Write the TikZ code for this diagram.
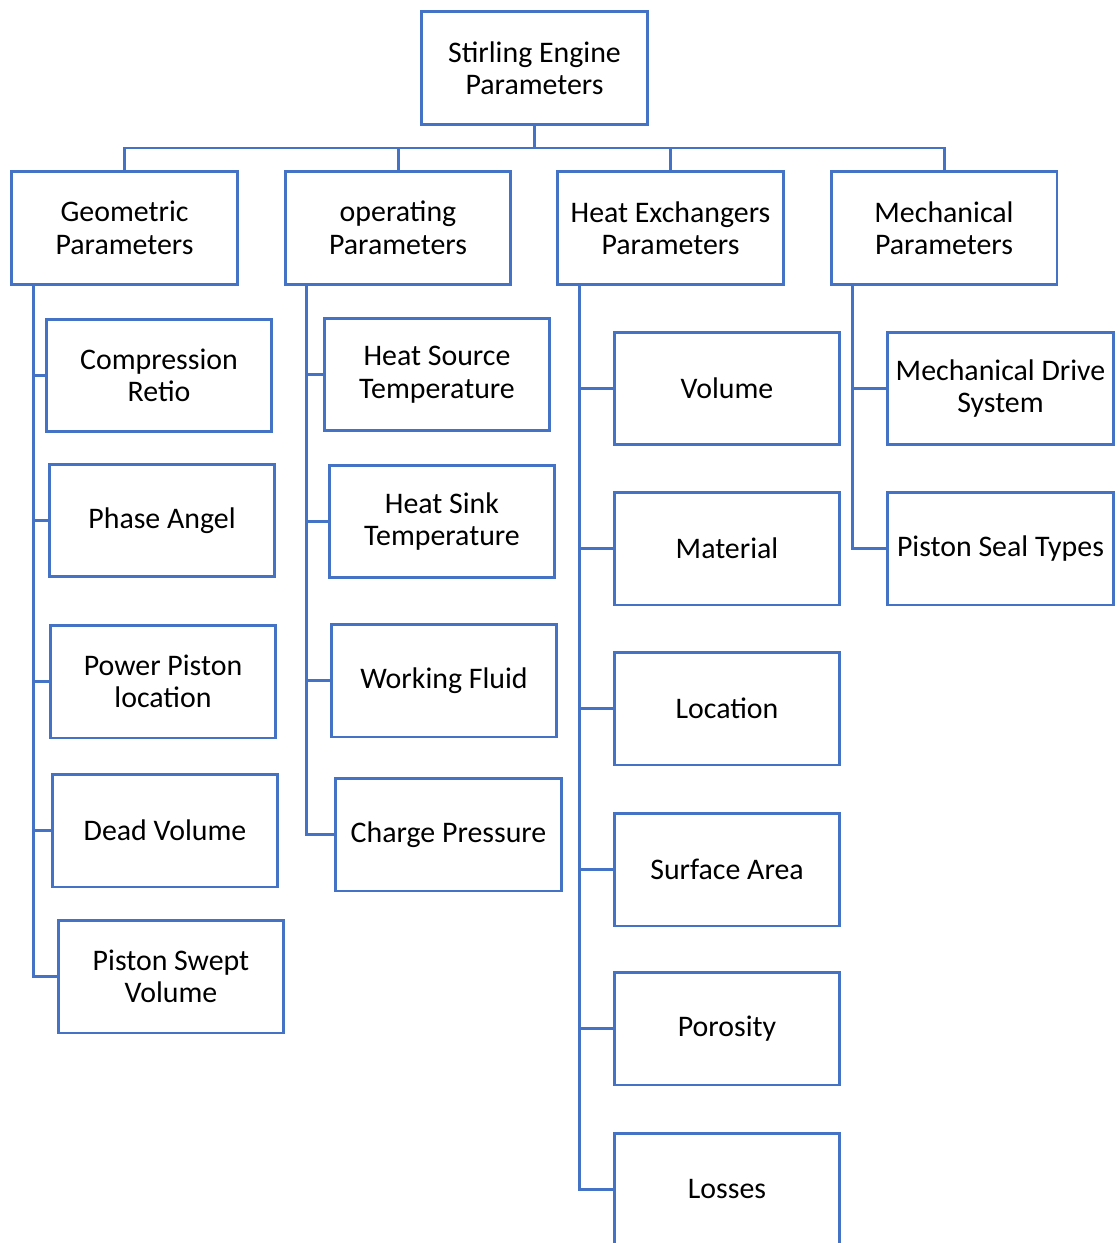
\documentclass[tikz,border=0pt]{standalone}
\usepackage{fontspec}
\setmainfont{Carlito}
\usetikzlibrary{positioning,calc}
\definecolor{boxblue}{RGB}{68,114,196}

\begin{document}
\begin{tikzpicture}[x=0.02cm, y=-0.02cm,
    param/.style={rectangle, draw=boxblue, line width=1.7pt, fill=white,
                  minimum width=4.52cm, minimum height=2.26cm, align=center,
                  font=\fontsize{17}{18.5}\selectfont, inner sep=2pt},
    link/.style={draw=boxblue, line width=1.7pt}
]
    \clip (0,0) rectangle (1117,1243);

    % Root and first level
    \node[param] (root) at (534.5,68) {Stirling Engine\\Parameters};
    \node[param] (geo)  at (124.5,228) {Geometric\\Parameters};
    \node[param] (op)   at (398,228)   {operating\\Parameters};
    \node[param] (hx)   at (670.5,228) {Heat Exchangers\\Parameters};
    \node[param] (mech) at (944,228)   {Mechanical\\Parameters};

    \coordinate (bus) at (534.5,148);
    \draw[link] (root.south) -- (bus);
    \foreach \g in {geo,op,hx,mech}
        \draw[link] (bus) -| (\g.north);

    % Geometric parameters
    \node[param] (cr) at (159,375.5) {Compression\\Retio};
    \node[param] (pa) at (162,520.5) {Phase Angel};
    \node[param] (pp) at (163,681.5) {Power Piston\\location};
    \node[param] (dv) at (165,830.5) {Dead Volume};
    \node[param] (sv) at (171,976.5) {Piston Swept\\Volume};
    \foreach \c in {cr,pa,pp,dv,sv}
        \draw[link] ($(geo.south west)+(23.5,0)$) |- (\c.west);

    % Operating parameters
    \node[param] (hs) at (437,374.5)   {Heat Source\\Temperature};
    \node[param] (hk) at (442,521.5)   {Heat Sink\\Temperature};
    \node[param] (wf) at (444,680.5)   {Working Fluid};
    \node[param] (cp) at (448.5,834.5) {Charge Pressure};
    \foreach \c in {hs,hk,wf,cp}
        \draw[link] ($(op.south west)+(23,0)$) |- (\c.west);

    % Heat exchangers parameters
    \node[param] (vol) at (727,388.5)  {Volume};
    \node[param] (mat) at (727,548.5)  {Material};
    \node[param] (loc) at (727,708.5)  {Location};
    \node[param] (sa)  at (727,869.5)  {Surface Area};
    \node[param] (por) at (727,1028.5) {Porosity};
    \node[param] (los) at (727,1189.5) {Losses};
    \foreach \c in {vol,mat,loc,sa,por,los}
        \draw[link] ($(hx.south west)+(23.5,0)$) |- (\c.west);

    % Mechanical parameters
    \node[param] (md) at (1000.5,388.5) {Mechanical Drive\\System};
    \node[param] (st) at (1000.5,548.5) {Piston Seal Types};
    \foreach \c in {md,st}
        \draw[link] ($(mech.south west)+(23,0)$) |- (\c.west);
\end{tikzpicture}
\end{document}
